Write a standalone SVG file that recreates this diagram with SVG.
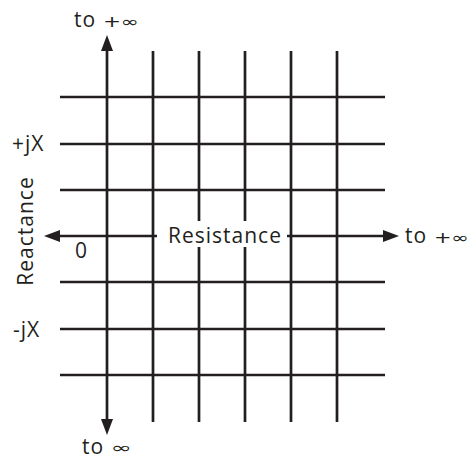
<svg xmlns="http://www.w3.org/2000/svg" width="472" height="459" viewBox="0 0 472 459">
  <style>
    .grid line { stroke: #231f20; stroke-width: 2.7; }
    .axis { stroke: #231f20; stroke-width: 2.7; fill: none; }
    .lbl { font-family: "Open Sans", "Liberation Sans", sans-serif; font-size: 21px; font-weight: 500; fill: #231f20; letter-spacing: 1px; }
    .inf { font-family: "DejaVu Sans", "Noto Sans", sans-serif; font-size: 15px; fill: #231f20; }
  </style>
  <defs>
    <marker id="arrow" viewBox="0 0 16 12" markerWidth="16" markerHeight="12" refX="1" refY="6" orient="auto-start-reverse" markerUnits="userSpaceOnUse">
      <path d="M0,0 L16,6 L0,12 Z" fill="#231f20"/>
    </marker>
  </defs>

  <g id="grid" class="grid">
    <line x1="153" y1="51" x2="153" y2="422"/>
    <line x1="199" y1="51" x2="199" y2="422"/>
    <line x1="245" y1="51" x2="245" y2="422"/>
    <line x1="291" y1="51" x2="291" y2="422"/>
    <line x1="337" y1="51" x2="337" y2="422"/>
    <line x1="60" y1="97" x2="385" y2="97"/>
    <line x1="60" y1="144" x2="385" y2="144"/>
    <line x1="60" y1="190" x2="385" y2="190"/>
    <line x1="60" y1="282" x2="385" y2="282"/>
    <line x1="60" y1="329" x2="385" y2="329"/>
    <line x1="60" y1="375" x2="385" y2="375"/>
  </g>

  <g id="connectors">
    <line class="axis" x1="107" y1="50" x2="107" y2="420" marker-start="url(#arrow)" marker-end="url(#arrow)"/>
    <line class="axis" x1="59" y1="236" x2="384" y2="236" marker-start="url(#arrow)" marker-end="url(#arrow)"/>
  </g>

  <g id="resistance-label">
    <rect x="157" y="221" width="130" height="26" fill="#ffffff"/>
    <text class="lbl" x="168" y="243">Resistance</text>
  </g>

  <g id="reactance-label">
    <text class="lbl" transform="translate(33,231) rotate(-90)" text-anchor="middle">Reactance</text>
  </g>

  <g id="tick-labels">
    <text class="lbl" x="12" y="151">+jX</text>
    <text class="lbl" x="75" y="258">0</text>
    <text class="lbl" x="13" y="337">-jX</text>
  </g>

  <g id="infinity-labels">
    <text class="lbl" x="74" y="27">to</text>
    <text class="inf" x="103" y="27" textLength="36" lengthAdjust="spacingAndGlyphs">+∞</text>
    <text class="lbl" x="405" y="243">to</text>
    <text class="inf" x="434" y="243" textLength="35" lengthAdjust="spacingAndGlyphs">+∞</text>
    <text class="lbl" x="82" y="454">to</text>
    <text class="inf" x="111" y="453" textLength="21" lengthAdjust="spacingAndGlyphs">∞</text>
  </g>
</svg>
